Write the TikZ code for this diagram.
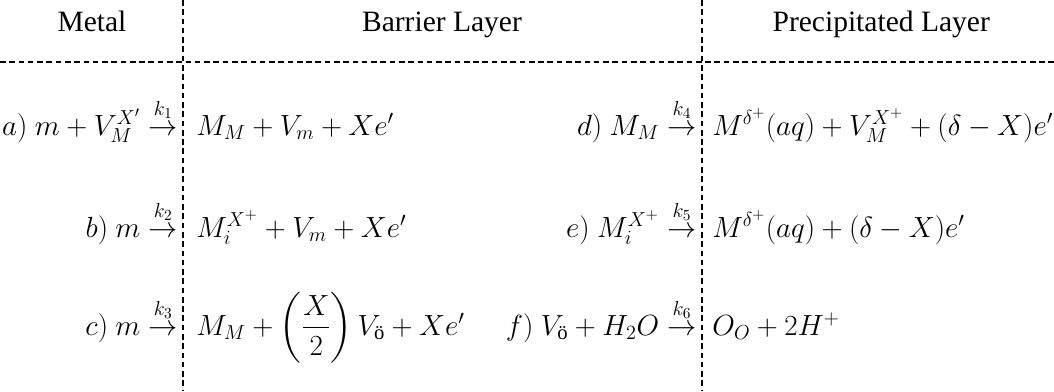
\documentclass[tikz,border=0pt]{standalone}
\usepackage{amsmath,amssymb}
\usepackage{fontspec}
\setmainfont{Liberation Serif}
\usetikzlibrary{positioning}
\newcommand{\rateto}[1]{\mathrel{\overset{\raisebox{2pt}{$\scriptstyle #1$}}{\rightarrow}}}

\begin{document}
\begin{tikzpicture}[
  divider/.style={black, line width=0.8pt, dash pattern=on 4pt off 2.6pt},
  headlbl/.style={font=\fontsize{21}{25}\selectfont, anchor=base, inner sep=0pt},
  lhs/.style={font=\fontsize{21}{25}\selectfont, anchor=base east, inner sep=0pt},
  rhs/.style={font=\fontsize{21}{25}\selectfont, anchor=base west, inner sep=0pt},
]

% Frame
\useasboundingbox (0,0) rectangle (26.35,9.775);

% === Dividers ===
\draw[divider] (0,8.225) -- (26.35,8.225);
\draw[divider] (4.575,9.775) -- (4.575,0);
\draw[divider] (17.55,9.775) -- (17.55,0);

% === Column headings ===
\node[headlbl] (metal) at (2.3,8.98) {Metal};
\node[headlbl] (barrier) at (11.05,8.98) {Barrier Layer};
\node[headlbl] (precip) at (22.03,8.98) {Precipitated Layer};

% === Metal / barrier interface ===
\node[lhs] (rxnA) at (4.45,6.4) {$a)\ m + V_M^{X'} \rateto{k_1}$};
\node[rhs] (prodA) at (4.9,6.4) {$M_M + V_m + Xe'$};

\node[lhs] (rxnB) at (4.45,3.85) {$b)\ m \rateto{k_2}$};
\node[rhs] (prodB) at (4.9,3.85) {$M_i^{X^+} + V_m + Xe'$};

\node[lhs] (rxnC) at (4.45,1.4) {$c)\ m \rateto{k_3}$};
\node[rhs] (prodC) at (4.9,1.4) {$M_M + \left(\dfrac{X}{2}\right) V_{\text{ö}} + Xe'$};

% === Barrier / precipitated interface ===
\node[lhs] (rxnD) at (17.42,6.4) {$d)\ M_M \rateto{k_4}$};
\node[rhs] (prodD) at (17.8,6.4) {$M^{\delta^+}(aq) + V_M^{X^+} + (\delta - X)e'$};

\node[lhs] (rxnE) at (17.42,3.85) {$e)\ M_i^{X^+} \rateto{k_5}$};
\node[rhs] (prodE) at (17.8,3.85) {$M^{\delta^+}(aq) + (\delta - X)e'$};

\node[lhs] (rxnF) at (17.42,1.4) {$f)\ V_{\text{ö}} + H_2O \rateto{k_6}$};
\node[rhs] (prodF) at (17.8,1.4) {$O_O + 2H^+$};

\end{tikzpicture}
\end{document}
